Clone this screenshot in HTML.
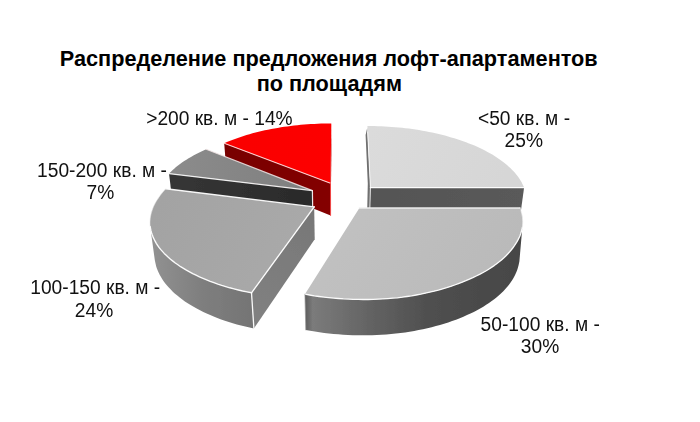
<!DOCTYPE html>
<html><head><meta charset="utf-8">
<style>
html,body{margin:0;padding:0;background:#fff;}
body{width:700px;height:422px;overflow:hidden;font-family:"Liberation Sans",sans-serif;}
svg{display:block;}
text{font-family:"Liberation Sans",sans-serif;fill:#111;}
.t{font-weight:bold;font-size:21.7px;fill:#000;}
.l{font-size:19.2px;}
</style></head><body>
<svg width="700" height="422" viewBox="0 0 700 422">
<defs>
<filter id="soft" x="-5%" y="-5%" width="110%" height="110%"><feGaussianBlur stdDeviation="0.35"/></filter>
<linearGradient id="g30s" x1="305" y1="0" x2="523" y2="0" gradientUnits="userSpaceOnUse">
<stop offset="0" stop-color="#5c5c5c"/><stop offset="0.035" stop-color="#7b7b7b"/><stop offset="0.3" stop-color="#636363"/><stop offset="0.55" stop-color="#505050"/><stop offset="0.8" stop-color="#4a4a4a"/><stop offset="1" stop-color="#464646"/>
</linearGradient>
<linearGradient id="g30t" x1="340" y1="210" x2="480" y2="300" gradientUnits="userSpaceOnUse">
<stop offset="0" stop-color="#c1c1c1"/><stop offset="1" stop-color="#bababa"/>
</linearGradient>
<linearGradient id="g24s" x1="150" y1="0" x2="256" y2="0" gradientUnits="userSpaceOnUse">
<stop offset="0" stop-color="#929292"/><stop offset="0.5" stop-color="#7e7e7e"/><stop offset="1" stop-color="#747474"/>
</linearGradient>
<linearGradient id="g24r" x1="255" y1="310" x2="315" y2="222" gradientUnits="userSpaceOnUse">
<stop offset="0" stop-color="#808080"/><stop offset="1" stop-color="#787878"/>
</linearGradient>
<linearGradient id="g24t" x1="160" y1="200" x2="290" y2="260" gradientUnits="userSpaceOnUse">
<stop offset="0" stop-color="#a3a3a3"/><stop offset="1" stop-color="#a9a9a9"/>
</linearGradient>
<linearGradient id="g25s" x1="370" y1="0" x2="523" y2="0" gradientUnits="userSpaceOnUse">
<stop offset="0" stop-color="#545454"/><stop offset="1" stop-color="#5a5a5a"/>
</linearGradient>
<linearGradient id="g25t" x1="370" y1="130" x2="500" y2="190" gradientUnits="userSpaceOnUse">
<stop offset="0" stop-color="#dbdbdb"/><stop offset="1" stop-color="#d6d6d6"/>
</linearGradient>
<linearGradient id="g7s" x1="170" y1="0" x2="312" y2="0" gradientUnits="userSpaceOnUse">
<stop offset="0" stop-color="#363636"/><stop offset="1" stop-color="#2a2a2a"/>
</linearGradient>
<linearGradient id="g7t" x1="175" y1="170" x2="300" y2="180" gradientUnits="userSpaceOnUse">
<stop offset="0" stop-color="#8b8b8b"/><stop offset="1" stop-color="#808080"/>
</linearGradient>
<linearGradient id="g14s" x1="225" y1="150" x2="330" y2="200" gradientUnits="userSpaceOnUse">
<stop offset="0" stop-color="#780000"/><stop offset="1" stop-color="#840000"/>
</linearGradient>
<linearGradient id="g14t" x1="230" y1="140" x2="330" y2="150" gradientUnits="userSpaceOnUse">
<stop offset="0" stop-color="#fa0000"/><stop offset="1" stop-color="#fd0202"/>
</linearGradient>
</defs>
<rect width="700" height="422" fill="#fff"/>
<g filter="url(#soft)">
<!-- 14 -->
<path d="M330.5,183.2 L331.3,123.4 L331.4,152.8 L330.6,215.5 Z" fill="#b00000"/>
<path d="M330.5,183.2 L224.2,143.2 L226.6,173.6 L330.6,215.5 Z" fill="url(#g14s)"/>
<path d="M330.5,183.2 L224.2,143.2 L226.9,142.0 L229.5,141.0 L232.2,139.9 L235.0,138.9 L237.8,137.9 L240.7,136.9 L243.6,136.0 L246.5,135.1 L249.5,134.2 L252.5,133.3 L255.5,132.5 L258.6,131.8 L261.7,131.0 L264.8,130.3 L268.0,129.7 L271.2,129.0 L274.4,128.4 L277.6,127.9 L280.9,127.3 L284.1,126.8 L287.4,126.4 L290.7,125.9 L294.1,125.5 L297.4,125.2 L300.8,124.8 L304.1,124.5 L307.5,124.3 L310.9,124.1 L314.3,123.9 L317.7,123.7 L321.1,123.6 L324.5,123.5 L327.9,123.4 L331.3,123.4 Z" fill="url(#g14t)"/>
<path d="M330.5,183.2 L224.2,143.2" stroke="#ffdcdc" stroke-width="1.2" fill="none" opacity="0.9" stroke-linecap="round" stroke-linejoin="round"/>
<path d="M330.5,183.2 L330.6,215.5" stroke="#ff4040" stroke-width="1.0" fill="none" opacity="0.8" stroke-linecap="round" stroke-linejoin="round"/>
<!-- 25 -->
<path d="M367.2,128.0 L370.4,187.6 L369.6,219.1 L367.0,218.1 L367.8,183.6 L365.6,135.0 Z" fill="#707070"/>
<path d="M370.4,187.6 L524.1,187.6 L519.8,219.1 L369.6,219.1 Z" fill="url(#g25s)"/>
<path d="M370.4,187.6 L367.4,126.0 L370.8,126.0 L374.3,126.1 L377.8,126.2 L381.3,126.3 L384.8,126.5 L388.2,126.7 L391.7,126.9 L395.2,127.2 L398.6,127.5 L402.1,127.8 L405.5,128.2 L408.9,128.6 L412.3,129.1 L415.7,129.6 L419.0,130.1 L422.4,130.7 L425.7,131.3 L429.0,131.9 L432.2,132.6 L435.5,133.3 L438.7,134.0 L441.9,134.8 L445.0,135.6 L448.1,136.5 L451.2,137.4 L454.3,138.3 L457.3,139.2 L460.3,140.2 L463.2,141.2 L466.1,142.3 L469.0,143.4 L471.8,144.5 L474.5,145.6 L477.2,146.8 L479.9,148.1 L482.5,149.3 L485.0,150.6 L487.5,151.9 L489.9,153.2 L492.3,154.6 L494.6,156.0 L496.8,157.5 L499.0,158.9 L501.1,160.4 L503.2,161.9 L505.1,163.5 L507.0,165.1 L508.8,166.7 L510.6,168.3 L512.2,169.9 L513.8,171.6 L515.3,173.3 L516.7,175.0 L518.1,176.8 L519.3,178.5 L520.4,180.3 L521.5,182.1 L522.4,184.0 L523.3,185.8 L524.1,187.6 Z" fill="url(#g25t)"/>
<path d="M370.4,187.6 L524.1,187.6" stroke="#fff" stroke-width="1.4" fill="none" opacity="0.95" stroke-linecap="round" stroke-linejoin="round"/>
<path d="M367.7,132.0 L370.4,187.6 L369.6,219.1" stroke="#fff" stroke-width="1.0" fill="none" opacity="0.8" stroke-linecap="round" stroke-linejoin="round"/>
<!-- 7 -->
<path d="M312.4,190.6 L169.0,173.6 L172.8,204.4 L312.9,222.2 Z" fill="url(#g7s)"/>
<path d="M312.4,190.6 L169.0,173.6 L170.7,171.9 L172.4,170.3 L174.2,168.7 L176.0,167.1 L178.0,165.6 L180.0,164.1 L182.0,162.6 L184.2,161.1 L186.4,159.7 L188.6,158.3 L191.0,156.9 L193.4,155.6 L195.8,154.3 L198.3,153.0 L200.9,151.7 L203.5,150.5 L206.2,149.3 Z" fill="url(#g7t)"/>
<path d="M312.4,190.6 L169.0,173.6" stroke="#f6f6f6" stroke-width="1.3" fill="none" opacity="0.95" stroke-linecap="round" stroke-linejoin="round"/>
<path d="M312.4,190.6 L312.9,222.2" stroke="#fff" stroke-width="1.2" fill="none" opacity="0.9" stroke-linecap="round" stroke-linejoin="round"/>
<path d="M312.4,190.6 L206.2,149.3" stroke="#f2e6e6" stroke-width="1.2" fill="none" opacity="0.85" stroke-linecap="round" stroke-linejoin="round"/>
<!-- 24 -->
<path d="M251.5,292.8 L247.0,291.9 L242.6,291.0 L238.3,290.0 L234.0,288.9 L229.8,287.8 L225.7,286.6 L221.7,285.4 L217.8,284.1 L213.9,282.7 L210.2,281.3 L206.6,279.8 L203.0,278.3 L199.4,276.8 L196.0,275.2 L192.7,273.6 L189.5,271.9 L186.4,270.2 L183.5,268.4 L180.6,266.7 L177.9,264.8 L175.3,263.0 L172.9,261.1 L170.5,259.2 L168.3,257.3 L166.2,255.3 L164.2,253.4 L162.4,251.4 L160.6,249.4 L159.0,247.4 L157.6,245.3 L156.3,243.3 L155.1,241.2 L154.1,239.2 L153.1,237.1 L152.3,235.0 L151.6,233.0 L151.0,230.9 L150.6,228.8 L150.2,226.7 L154.8,259.9 L155.2,262.1 L155.7,264.2 L156.2,266.4 L156.9,268.5 L157.8,270.7 L158.7,272.8 L159.8,275.0 L161.0,277.1 L162.3,279.2 L163.8,281.4 L165.3,283.5 L167.0,285.5 L168.8,287.6 L170.8,289.6 L172.8,291.7 L175.0,293.7 L177.3,295.6 L179.7,297.6 L182.3,299.5 L184.9,301.4 L187.7,303.2 L190.6,305.0 L193.6,306.8 L196.7,308.5 L200.0,310.2 L203.3,311.9 L206.7,313.5 L210.2,315.0 L213.7,316.5 L217.3,318.0 L221.1,319.4 L224.9,320.7 L228.8,322.0 L232.8,323.2 L236.9,324.4 L241.0,325.5 L245.3,326.6 L249.6,327.5 L253.9,328.5 Z" fill="url(#g24s)"/>
<path d="M314.2,206.9 L251.5,292.8 L253.9,328.5 L314.7,239.3 Z" fill="url(#g24r)"/>
<path d="M314.2,206.9 L251.5,292.8 L247.0,291.9 L242.5,291.0 L238.2,290.0 L233.9,288.9 L229.6,287.7 L225.5,286.5 L221.5,285.3 L217.5,284.0 L213.6,282.6 L209.9,281.2 L206.2,279.7 L202.6,278.2 L199.1,276.6 L195.6,275.0 L192.3,273.4 L189.1,271.7 L186.0,269.9 L183.0,268.2 L180.2,266.4 L177.5,264.5 L174.9,262.7 L172.4,260.8 L170.1,258.8 L167.8,256.9 L165.7,254.9 L163.8,252.9 L162.0,250.9 L160.2,248.9 L158.7,246.9 L157.3,244.8 L156.0,242.7 L154.8,240.7 L153.8,238.6 L152.9,236.5 L152.1,234.4 L151.4,232.3 L150.9,230.2 L150.4,228.1 L150.1,226.0 L150.0,224.0 L150.0,221.9 L150.1,219.8 L150.3,217.7 L150.7,215.7 L151.1,213.6 L151.7,211.6 L152.4,209.6 L153.1,207.6 L154.0,205.6 L155.0,203.6 L156.0,201.7 L157.2,199.8 L158.5,197.9 L159.8,196.0 L161.2,194.1 L162.7,192.3 L164.2,190.4 L165.8,188.7 Z" fill="url(#g24t)"/>
<path d="M314.2,206.9 L165.8,188.7" stroke="#fff" stroke-width="1.4" fill="none" opacity="0.95" stroke-linecap="round" stroke-linejoin="round"/>
<path d="M150.2,226.7 L150.0,224.7 L150.0,222.7 L150.0,220.7 L150.2,218.7 L150.5,216.7 L150.9,214.7 L151.4,212.8 L152.0,210.8 L152.6,208.9 L153.4,206.9 L154.3,205.0 L155.3,203.1 L156.3,201.2 L157.5,199.4 L158.7,197.5 L160.0,195.7 L161.4,193.9 L162.8,192.1 L164.3,190.4 L165.8,188.7" stroke="#e8e8e8" stroke-width="0.9" fill="none" opacity="0.6" stroke-linecap="round" stroke-linejoin="round"/>
<path d="M251.5,292.8 L247.0,291.9 L242.6,291.0 L238.3,290.0 L234.0,288.9 L229.8,287.8 L225.7,286.6 L221.7,285.4 L217.8,284.1 L213.9,282.7 L210.2,281.3 L206.6,279.8 L203.0,278.3 L199.4,276.8 L196.0,275.2 L192.7,273.6 L189.5,271.9 L186.4,270.2 L183.5,268.4 L180.6,266.7 L177.9,264.8 L175.3,263.0 L172.9,261.1 L170.5,259.2 L168.3,257.3 L166.2,255.3 L164.2,253.4 L162.4,251.4 L160.6,249.4 L159.0,247.4 L157.6,245.3 L156.3,243.3 L155.1,241.2 L154.1,239.2 L153.1,237.1 L152.3,235.0 L151.6,233.0 L151.0,230.9 L150.6,228.8 L150.2,226.7" stroke="#fff" stroke-width="1.4" fill="none" opacity="0.95" stroke-linecap="round" stroke-linejoin="round"/>
<path d="M314.2,206.9 L251.5,292.8" stroke="#fff" stroke-width="1.4" fill="none" opacity="0.95" stroke-linecap="round" stroke-linejoin="round"/>
<path d="M251.5,292.8 L253.9,328.5" stroke="#fff" stroke-width="1.3" fill="none" opacity="0.95" stroke-linecap="round" stroke-linejoin="round"/>
<!-- 30 -->
<path d="M522.3,227.7 L521.9,229.8 L521.3,231.8 L520.7,233.8 L519.9,235.9 L519.0,237.9 L518.0,239.9 L516.9,241.9 L515.6,243.9 L514.3,245.9 L512.8,248.0 L511.2,250.0 L509.5,252.0 L507.7,254.0 L505.8,256.0 L503.7,258.0 L501.5,259.9 L499.2,261.8 L496.7,263.7 L494.2,265.6 L491.5,267.4 L488.7,269.2 L485.8,271.0 L482.7,272.7 L479.6,274.4 L476.3,276.0 L472.9,277.6 L469.5,279.1 L465.9,280.7 L462.3,282.2 L458.5,283.6 L454.7,285.0 L450.7,286.4 L446.7,287.7 L442.6,288.9 L438.4,290.1 L434.1,291.2 L429.7,292.2 L425.3,293.2 L420.8,294.2 L416.3,295.0 L411.7,295.8 L407.0,296.5 L402.3,297.2 L397.5,297.8 L392.7,298.2 L387.8,298.6 L382.9,298.9 L378.0,299.2 L373.1,299.4 L368.1,299.5 L363.1,299.5 L358.2,299.4 L353.2,299.3 L348.3,299.1 L343.3,298.9 L338.4,298.5 L333.5,298.1 L328.6,297.6 L323.8,297.1 L319.0,296.5 L314.2,295.8 L309.5,295.0 L304.9,294.2 L305.8,329.9 L310.3,330.7 L314.9,331.5 L319.5,332.2 L324.2,332.9 L328.9,333.4 L333.6,333.9 L338.4,334.3 L343.1,334.7 L347.9,335.0 L352.8,335.2 L357.6,335.3 L362.4,335.3 L367.2,335.3 L372.0,335.2 L376.8,335.0 L381.6,334.8 L386.4,334.4 L391.1,334.0 L395.8,333.6 L400.5,333.0 L405.1,332.4 L409.6,331.7 L414.2,330.9 L418.6,330.1 L423.0,329.2 L427.4,328.2 L431.7,327.2 L435.9,326.1 L440.0,324.9 L444.1,323.7 L448.2,322.4 L452.1,321.1 L456.0,319.7 L459.8,318.2 L463.4,316.7 L467.0,315.1 L470.5,313.5 L473.8,311.9 L477.1,310.2 L480.2,308.4 L483.3,306.7 L486.2,304.8 L489.0,303.0 L491.7,301.1 L494.2,299.2 L496.7,297.2 L499.0,295.2 L501.2,293.2 L503.3,291.2 L505.3,289.1 L507.1,287.0 L508.8,284.9 L510.4,282.8 L511.8,280.7 L513.2,278.5 L514.3,276.4 L515.4,274.2 L516.4,272.0 L517.2,269.9 L517.9,267.7 L518.5,265.5 L519.0,263.3 L519.4,261.2 Z" fill="url(#g30s)"/>
<path d="M359.4,207.9 L520.0,207.9 L520.7,209.9 L521.3,212.0 L521.9,214.0 L522.3,216.1 L522.6,218.1 L522.7,220.2 L522.8,222.3 L522.7,224.3 L522.5,226.4 L522.1,228.4 L521.7,230.5 L521.1,232.5 L520.4,234.6 L519.6,236.6 L518.6,238.7 L517.6,240.7 L516.4,242.7 L515.1,244.8 L513.6,246.8 L512.1,248.9 L510.5,250.9 L508.7,252.9 L506.8,255.0 L504.8,257.0 L502.6,258.9 L500.3,260.9 L497.9,262.8 L495.4,264.7 L492.7,266.6 L490.0,268.4 L487.1,270.2 L484.0,271.9 L480.9,273.7 L477.7,275.3 L474.3,277.0 L470.8,278.6 L467.3,280.1 L463.6,281.7 L459.8,283.1 L456.0,284.6 L452.0,285.9 L448.0,287.3 L443.9,288.5 L439.6,289.7 L435.3,290.9 L431.0,292.0 L426.5,293.0 L422.0,293.9 L417.4,294.8 L412.8,295.6 L408.0,296.4 L403.3,297.1 L398.5,297.7 L393.6,298.1 L388.7,298.5 L383.8,298.9 L378.8,299.1 L373.8,299.3 L368.8,299.4 L363.8,299.5 L358.8,299.4 L353.7,299.3 L348.7,299.1 L343.7,298.9 L338.8,298.5 L333.8,298.1 L328.9,297.7 L324.0,297.1 L319.2,296.5 L314.3,295.8 L309.6,295.0 L304.9,294.2 Z" fill="url(#g30t)"/>
<path d="M359.4,207.9 L520.0,207.9" stroke="#efefef" stroke-width="1.5" fill="none" opacity="0.95" stroke-linecap="round" stroke-linejoin="round"/>
<path d="M522.3,227.7 L521.9,229.8 L521.3,231.8 L520.7,233.8 L519.9,235.9 L519.0,237.9 L518.0,239.9 L516.9,241.9 L515.6,243.9 L514.3,245.9 L512.8,248.0 L511.2,250.0 L509.5,252.0 L507.7,254.0 L505.8,256.0 L503.7,258.0 L501.5,259.9 L499.2,261.8 L496.7,263.7 L494.2,265.6 L491.5,267.4 L488.7,269.2 L485.8,271.0 L482.7,272.7 L479.6,274.4 L476.3,276.0 L472.9,277.6 L469.5,279.1 L465.9,280.7 L462.3,282.2 L458.5,283.6 L454.7,285.0 L450.7,286.4 L446.7,287.7 L442.6,288.9 L438.4,290.1 L434.1,291.2 L429.7,292.2 L425.3,293.2 L420.8,294.2 L416.3,295.0 L411.7,295.8 L407.0,296.5 L402.3,297.2 L397.5,297.8 L392.7,298.2 L387.8,298.6 L382.9,298.9 L378.0,299.2 L373.1,299.4 L368.1,299.5 L363.1,299.5 L358.2,299.4 L353.2,299.3 L348.3,299.1 L343.3,298.9 L338.4,298.5 L333.5,298.1 L328.6,297.6 L323.8,297.1 L319.0,296.5 L314.2,295.8 L309.5,295.0 L304.9,294.2" stroke="#fff" stroke-width="1.3" fill="none" opacity="0.95" stroke-linecap="round" stroke-linejoin="round"/>
<path d="M520.0,207.9 L520.7,209.9 L521.3,211.8 L521.8,213.8 L522.2,215.8 L522.5,217.8 L522.7,219.8 L522.8,221.8 L522.7,223.8 L522.5,225.8 L522.3,227.7" stroke="#f0f0f0" stroke-width="1.0" fill="none" opacity="0.7" stroke-linecap="round" stroke-linejoin="round"/>
<path d="M304.9,294.2 L305.8,329.9" stroke="#9a9a9a" stroke-width="1.0" fill="none" opacity="0.7" stroke-linecap="round" stroke-linejoin="round"/>
</g>
<text class="t" transform="translate(328.7,65.8) scale(1,1.045)" text-anchor="middle">Распределение предложения лофт-апартаментов</text>
<text class="t" transform="translate(329.3,90.8) scale(1,1.045)" text-anchor="middle">по площадям</text>
<text class="l" transform="translate(219.4,124.7) scale(1,1.045)" text-anchor="middle">&gt;200 кв. м - 14%</text>
<text class="l" transform="translate(524,124.9) scale(1,1.045)" text-anchor="middle">&lt;50 кв. м -</text>
<text class="l" transform="translate(523.8,146.8) scale(1,1.045)" text-anchor="middle">25%</text>
<text class="l" transform="translate(102,176.6) scale(1,1.045)" text-anchor="middle">150-200 кв. м -</text>
<text class="l" transform="translate(100.4,198.6) scale(1,1.045)" text-anchor="middle">7%</text>
<text class="l" transform="translate(95.2,294.1) scale(1,1.045)" text-anchor="middle">100-150 кв. м -</text>
<text class="l" transform="translate(94,316.5) scale(1,1.045)" text-anchor="middle">24%</text>
<text class="l" transform="translate(540.2,330.5) scale(1,1.045)" text-anchor="middle">50-100 кв. м -</text>
<text class="l" transform="translate(540,352.9) scale(1,1.045)" text-anchor="middle">30%</text>
</svg>
</body></html>
